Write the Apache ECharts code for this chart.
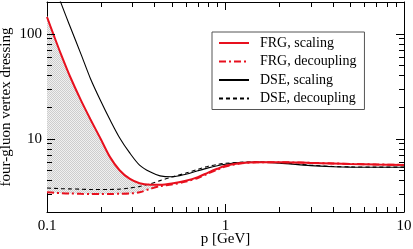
<!DOCTYPE html>
<html><head><meta charset="utf-8">
<script src="https://cdn.jsdelivr.net/npm/echarts@6/dist/echarts.min.js"></script>
<style>html,body{margin:0;padding:0;background:#fff}#c{width:413px;height:249px}</style>
</head><body><div id="c"></div>
<script>
// momentum grid p [GeV]
const momenta = [0.1, 0.11, 0.12, 0.135, 0.155, 0.175, 0.2, 0.225, 0.255, 0.29, 0.33, 0.38, 0.43, 0.5, 0.6, 0.7, 0.8, 0.9, 1.0, 1.2, 1.5, 2, 3, 4, 5, 7, 10];
const frgScaling    = [144, 93, 63.1, 38.6, 23.1, 15.3, 9.9, 6.7, 5.0, 4.15, 3.76, 3.64, 3.63, 3.73, 3.97, 4.30, 4.75, 5.16, 5.51, 5.83, 5.97, 5.97, 5.87, 5.80, 5.74, 5.67, 5.62];
const frgDecoupling = [3.08, 3.05, 3.02, 3.0, 2.98, 2.97, 2.97, 2.97, 2.98, 3.0, 3.08, 3.33, 3.53, 3.65, 3.90, 4.22, 4.65, 5.07, 5.42, 5.78, 5.95, 5.96, 5.87, 5.80, 5.74, 5.67, 5.62];
const dseScaling    = [460, 296, 194, 115.5, 63.8, 37.4, 22.8, 15.2, 10.2, 7.35, 5.6, 4.8, 4.42, 4.33, 4.58, 4.94, 5.26, 5.51, 5.69, 5.90, 5.97, 5.84, 5.53, 5.40, 5.35, 5.33, 5.33];
const dseDecoupling = [3.38, 3.36, 3.34, 3.32, 3.30, 3.28, 3.28, 3.28, 3.30, 3.38, 3.50, 3.72, 3.98, 4.30, 4.70, 5.10, 5.45, 5.68, 5.82, 5.95, 6.00, 5.88, 5.58, 5.43, 5.38, 5.35, 5.35];
const seriesNames = ['FRG, scaling', 'FRG, decoupling', 'DSE, scaling', 'DSE, decoupling'];
// axis ranges and tick marks
const xRange = [0.1, 10];
const yRange = [2, 200];
const xMajorTicks = [1];
const xMinorTicks = [0.2, 0.3, 0.4, 0.5, 0.6, 0.7, 0.8, 0.9, 2, 3, 4, 5, 6, 7, 8, 9];
const yMajorTicks = [10, 100];
const yMinorTicks = [3, 4, 5, 6, 7, 8, 9, 20, 30, 40, 50, 60, 70, 80, 90];
const xAxisName = 'p [GeV]';
const yAxisName = 'four-gluon vertex dressing';

const FONT = "'Liberation Serif','Times New Roman',serif";
const RED = '#e8101e';

function pts(arr) { return momenta.map((p, i) => [p, arr[i]]); }

// hatched fill pattern
const pc = document.createElement('canvas');
pc.width = 2; pc.height = 2;
const pctx = pc.getContext('2d');
pctx.fillStyle = '#f0f0f0'; pctx.fillRect(0, 0, 2, 2);
pctx.fillStyle = '#cdcdcd'; pctx.fillRect(0, 0, 1, 1); pctx.fillRect(1, 1, 1, 1);

const tickData = [];
xMajorTicks.forEach(v => tickData.push([v, yRange[0], 0]));
xMinorTicks.forEach(v => tickData.push([v, yRange[0], 1]));
yMajorTicks.forEach(v => tickData.push([xRange[0], v, 2]));
yMinorTicks.forEach(v => tickData.push([xRange[0], v, 3]));

function renderTick(params, api) {
  const kind = api.value(2);
  const len = (kind % 2 === 0) ? 8 : 5;
  const st = { stroke: '#000', lineWidth: 1 };
  if (kind < 2) {
    const v = api.value(0);
    const b = api.coord([v, yRange[0]]), t = api.coord([v, yRange[1]]);
    const x = Math.round(b[0]) + 0.5;
    return { type: 'group', children: [
      { type: 'line', shape: { x1: x, y1: b[1], x2: x, y2: b[1] - len }, style: st },
      { type: 'line', shape: { x1: x, y1: t[1], x2: x, y2: t[1] + len }, style: st }
    ]};
  } else {
    const v = api.value(1);
    const l = api.coord([xRange[0], v]), r = api.coord([xRange[1], v]);
    const y = Math.round(l[1]) + 0.5;
    return { type: 'group', children: [
      { type: 'line', shape: { x1: l[0], y1: y, x2: l[0] + len, y2: y }, style: st },
      { type: 'line', shape: { x1: r[0], y1: y, x2: r[0] - len, y2: y }, style: st }
    ]};
  }
}

function renderFill(params, api) {
  if (params.dataIndex !== 0) return null;
  const poly = [];
  for (let i = 0; i < momenta.length; i++) poly.push(api.coord([momenta[i], frgScaling[i]]));
  for (let i = momenta.length - 1; i >= 0; i--) poly.push(api.coord([momenta[i], frgDecoupling[i]]));
  return { type: 'polygon', shape: { points: poly, smooth: 0.3 }, style: { fill: { image: pc, repeat: 'repeat' }, stroke: null } };
}

function logLabel(v) {
  return String(+Number(v).toPrecision(3));
}
function isDecade(v) {
  const l = Math.log10(v);
  return Math.abs(l - Math.round(l)) < 1e-6;
}

const chart = echarts.init(document.getElementById('c'), null, { renderer: 'canvas' });
chart.setOption({
  animation: false,
  backgroundColor: '#fff',
  grid: { left: 47, right: 9, top: 2, bottom: 37, containLabel: false, outerBoundsMode: 'none' },
  legend: {
    data: seriesNames,
    orient: 'vertical',
    left: 212, top: 32,
    itemWidth: 30, itemHeight: 14, itemGap: 4.5,
    padding: [4, 8, 4, 6],
    backgroundColor: '#fff',
    borderColor: '#555', borderWidth: 1, borderRadius: 0,
    itemStyle: { opacity: 0, color: 'rgba(0,0,0,0)', borderWidth: 0 },
    textStyle: { fontFamily: FONT, fontSize: 14, color: '#000', padding: [0, 0, 0, 6] }
  },
  xAxis: [
    { type: 'log', logBase: 10, min: xRange[0], max: xRange[1],
      name: xAxisName, nameLocation: 'middle', nameGap: 20, nameMoveOverlap: false,
      nameTextStyle: { fontFamily: FONT, fontSize: 15, color: '#000' },
      axisLine: { lineStyle: { color: '#000', width: 1 } },
      axisTick: { show: false }, splitLine: { show: false }, minorTick: { show: false },
      axisLabel: { fontFamily: FONT, fontSize: 15, color: '#000', margin: 7,
        formatter: v => isDecade(v) ? logLabel(v) : '' } },
    { type: 'log', logBase: 10, min: xRange[0], max: xRange[1], position: 'top',
      axisLine: { lineStyle: { color: '#000', width: 1 } },
      axisTick: { show: false }, axisLabel: { show: false }, splitLine: { show: false } }
  ],
  yAxis: [
    { type: 'log', logBase: 10, min: yRange[0], max: yRange[1],
      name: yAxisName, nameLocation: 'middle', nameGap: 33, nameRotate: 90, nameMoveOverlap: false,
      nameTextStyle: { fontFamily: FONT, fontSize: 15, color: '#000' },
      axisLine: { lineStyle: { color: '#000', width: 1 } },
      axisTick: { show: false }, splitLine: { show: false },
      axisLabel: { fontFamily: FONT, fontSize: 15, color: '#000', margin: 5,
        showMinLabel: false, showMaxLabel: false,
        formatter: v => (isDecade(v) ? logLabel(v) : '') } },
    { type: 'log', logBase: 10, min: yRange[0], max: yRange[1], position: 'right',
      axisLine: { lineStyle: { color: '#000', width: 1 } },
      axisTick: { show: false }, axisLabel: { show: false }, splitLine: { show: false } }
  ],
  series: [
    { type: 'custom', name: 'fill', renderItem: renderFill, data: pts(frgScaling), clip: true, silent: true, z: 1 },
    { type: 'line', name: seriesNames[3], data: pts(dseDecoupling), smooth: 0.3, showSymbol: false, symbol: 'none',
      lineStyle: { color: '#000', width: 1.1, type: [4, 3] }, itemStyle: { color: '#000' }, z: 3 },
    { type: 'line', name: seriesNames[2], data: pts(dseScaling), smooth: 0.3, showSymbol: false, symbol: 'none',
      lineStyle: { color: '#000', width: 1.1 }, itemStyle: { color: '#000' }, z: 3 },
    { type: 'line', name: seriesNames[1], data: pts(frgDecoupling), smooth: 0.3, showSymbol: false, symbol: 'none',
      lineStyle: { color: RED, width: 2, type: [7, 3, 2, 3] }, itemStyle: { color: RED }, z: 4 },
    { type: 'line', name: seriesNames[0], data: pts(frgScaling), smooth: 0.3, showSymbol: false, symbol: 'none',
      lineStyle: { color: RED, width: 2 }, itemStyle: { color: RED }, z: 5 },
    { type: 'custom', name: 'ticks', renderItem: renderTick, data: tickData, clip: false, silent: true, z: 6 }
  ]
});
</script>
</body></html>
